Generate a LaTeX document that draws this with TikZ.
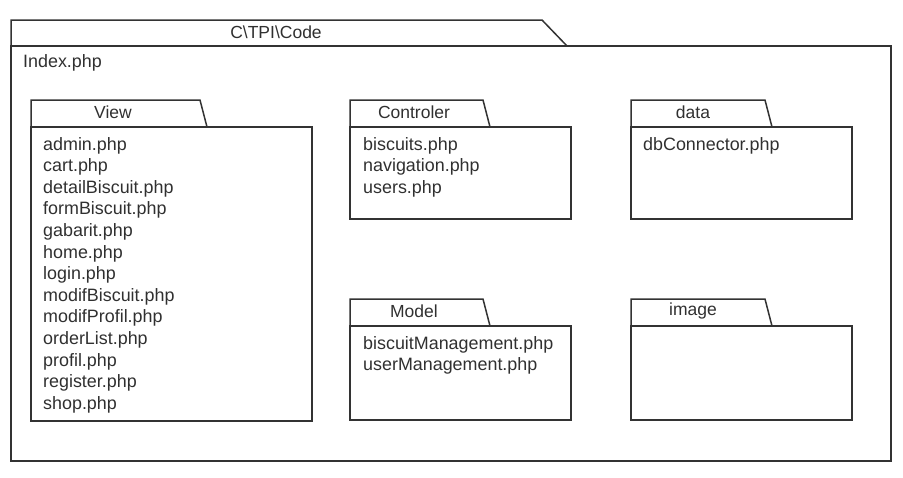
\documentclass[tikz,border=0pt]{standalone}
\usepackage{fontspec}
\setmainfont{Liberation Sans}
\usepackage{xcolor}
\usepackage{tikz}
\definecolor{ink}{HTML}{303030}
\definecolor{frame}{HTML}{333333}
\tikzset{
  pkg/.style={draw=frame, line width=1.5pt, line join=miter},
  ttl/.style={text=ink, font=\fontsize{17.5}{20}\selectfont, inner sep=0pt},
  files/.style={text=ink, font=\fontsize{17.9}{21.6}\selectfont, align=left, anchor=north west, inner sep=0pt},
}

\begin{document}
\begin{tikzpicture}[x=1pt,y=-1pt]
  \useasboundingbox (0,0) rectangle (903,477);

  % outer package
  \draw[pkg] (11,46) -- (11,20) -- (542,20) -- (567,46);
  \draw[pkg] (11,46) rectangle (891,461);
  \node[ttl] (codeT) at (276,32) {C\textbackslash TPI\textbackslash Code};
  \node[files, anchor=west] (index) at (23,63) {Index.php};

  % View
  \draw[pkg] (31,127) -- (31,100) -- (200,100) -- (207,127);
  \draw[pkg] (31,127) rectangle (312,421);
  \node[ttl] (viewT) at (113,112) {View};
  \node[files] (view) at (43,137) {admin.php\\cart.php\\detailBiscuit.php\\formBiscuit.php\\gabarit.php\\home.php\\login.php\\modifBiscuit.php\\modifProfil.php\\orderList.php\\profil.php\\register.php\\shop.php};

  % Controler
  \draw[pkg] (350,127) -- (350,100) -- (483,100) -- (490,127);
  \draw[pkg] (350,127) rectangle (571,219);
  \node[ttl] (ctrlT) at (414,112) {Controler};
  \node[files] (ctrl) at (363,137) {biscuits.php\\navigation.php\\users.php};

  % data
  \draw[pkg] (631,127) -- (631,100) -- (765,100) -- (772,127);
  \draw[pkg] (631,127) rectangle (852,219);
  \node[ttl] (dataT) at (693,112) {data};
  \node[files] (data) at (643,137) {dbConnector.php};

  % Model
  \draw[pkg] (350,326) -- (350,299) -- (483,299) -- (490,326);
  \draw[pkg] (350,326) rectangle (571,420);
  \node[ttl] (modelT) at (414,311) {Model};
  \node[files] (model) at (363,336) {biscuitManagement.php\\userManagement.php};

  % image
  \draw[pkg] (631,326) -- (631,299) -- (765,299) -- (772,326);
  \draw[pkg] (631,326) rectangle (852,420);
  \node[ttl] (imageT) at (693,311) {image};
\end{tikzpicture}
\end{document}
